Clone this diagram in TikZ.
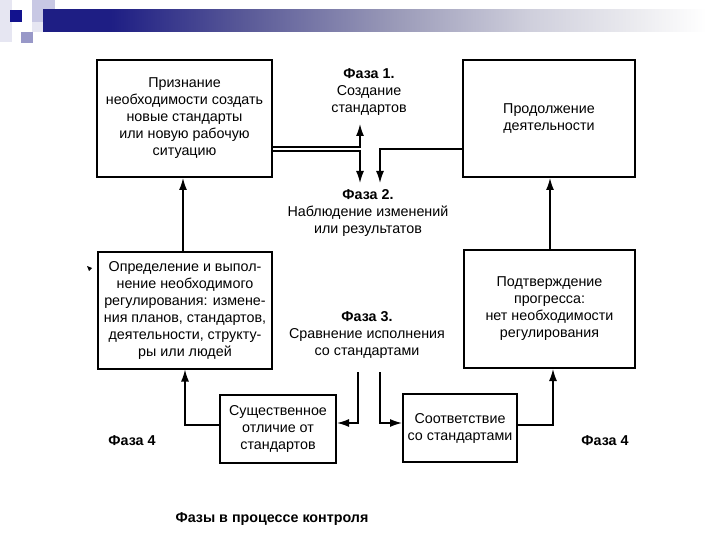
\documentclass[tikz,border=0pt]{standalone}
\usepackage{fontspec}
\setmainfont{Liberation Sans}
\usetikzlibrary{arrows.meta}
\definecolor{navy}{HTML}{1E1E84}
\definecolor{barB}{HTML}{5A5A98}
\definecolor{barC}{HTML}{9A9AB8}
\definecolor{barD}{HTML}{CFCFDC}
\definecolor{barE}{HTML}{ECECF0}
\definecolor{sqdark}{HTML}{12128E}
\definecolor{sqpale}{HTML}{C8C8E4}
\definecolor{sqmid}{HTML}{9898C8}
\definecolor{sqfaint}{HTML}{E6E6F2}
\pgfdeclarehorizontalshading{barshade}{100bp}{color(0bp)=(navy); color(30bp)=(navy); color(40bp)=(barB); color(51bp)=(barC); color(61bp)=(barD); color(69bp)=(barE); color(74bp)=(white); color(100bp)=(white)}
\newcommand\dgfont{\fontsize{14.3}{17}\selectfont}
\begin{document}
\begin{tikzpicture}[x=1pt,y=-1pt,
  box/.style={draw, line width=2pt, align=center, inner sep=0pt, font=\dgfont},
  conn/.style={line width=1.4pt},
  arr/.style={conn, -{Latex[length=12pt,width=8pt]}},
  phase/.style={align=center, font=\dgfont, inner sep=0pt},
  ]
\useasboundingbox[fill=white] (0,0) rectangle (720,540);
% slide decoration
\fill[sqfaint] (0,0) rectangle (12,42);
\fill[sqpale] (32,0) rectangle (55,22);
\shade[shading=barshade] (43,10) rectangle (720,32);
\fill[sqdark] (10,10) rectangle (22,22);
\fill[sqfaint] (32,22) rectangle (43,32);
\fill[sqmid] (21,32) rectangle (33,43);
% boxes
\node[box, minimum width=175pt, minimum height=117pt] (A) at (184.5,118.5)
  {Признание\\необходимости создать\\новые стандарты\\или новую рабочую\\ситуацию};
\node[box, minimum width=172pt, minimum height=117pt] (B) at (549,118.5)
  {Продолжение\\деятельности};
\node[box, minimum width=174pt, minimum height=117pt] (C) at (185,310)
  {Определение и выпол-\\нение необходимого\\регулирования: измене-\\ния планов, стандартов,\\деятельности, структу-\\ры или людей};
\node[box, minimum width=171pt, minimum height=118pt] (D) at (549.5,309)
  {Подтверждение\\прогресса:\\нет необходимости\\регулирования};
\node[box, minimum width=116pt, minimum height=68pt] (E) at (278,429)
  {Существенное\\отличие от\\стандартов};
\node[box, minimum width=114pt, minimum height=68pt] (F) at (460,428)
  {Соответствие\\со стандартами};
% phase labels
\node[phase] (ph1) at (369,92) {\textbf{Фаза 1.}\\Создание\\стандартов};
\node[phase] (ph2) at (368,213) {\textbf{Фаза 2.}\\Наблюдение изменений\\или результатов};
\node[phase] (ph3) at (367,335) {\textbf{Фаза 3.}\\Сравнение исполнения\\со стандартами};
\node[font=\dgfont\bfseries] (f4l) at (132,441) {Фаза 4};
\node[font=\dgfont\bfseries] (f4r) at (605,441) {Фаза 4};
\node[font=\dgfont\bfseries] (cap) at (272,519) {Фазы в процессе контроля};
% bullet mark
\fill (87,266) -- (92,268) -- (89,271) -- cycle;
% connectors
\coordinate (j1) at (360,147);
\coordinate (j1u) at (360,124);
\coordinate (j2) at (360,151);
\coordinate (j2d) at (360,183);
\coordinate (k1) at (380,149);
\coordinate (k1d) at (380,183);
\draw[arr] (A.east |- j1) -- (j1) -- (j1u);
\draw[arr] (A.east |- j2) -- (j2) -- (j2d);
\draw[arr] (B.west |- k1) -- (k1) -- (k1d);
\coordinate (cx) at (183,0);
\draw[arr] (C.north -| cx) -- (A.south -| cx);
\coordinate (dx) at (550,0);
\draw[arr] (D.north -| dx) -- (B.south -| dx);
\coordinate (m1) at (358,372);
\coordinate (m1b) at (358,423);
\draw[arr] (m1) -- (m1b) -- (E.east |- m1b);
\coordinate (n1) at (380,372);
\coordinate (n1b) at (380,423);
\draw[arr] (n1) -- (n1b) -- (F.west |- n1b);
\coordinate (q1) at (185,425);
\draw[arr] (E.west |- q1) -- (q1) -- (C.south -| q1);
\coordinate (r1) at (553,425);
\draw[arr] (F.east |- r1) -- (r1) -- (D.south -| r1);
\end{tikzpicture}
\end{document}
